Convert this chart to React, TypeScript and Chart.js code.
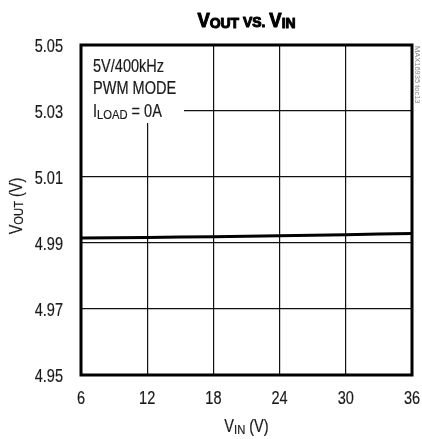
import React, { useEffect, useRef } from "react";
import { Chart, registerables } from "chart.js";

Chart.register(...registerables);

const vin: number[] = [6, 12, 18, 24, 30, 36];
const vout: number[] = [4.9915, 4.9917, 4.9919, 4.9922, 4.9925, 4.9929];
const xTicks: number[] = [6, 12, 18, 24, 30, 36];
const yTicks: number[] = [4.95, 4.97, 4.99, 5.01, 5.03, 5.05];
const noteLines: string[] = ["5V/400kHz", "PWM MODE"];
const tocLabel = "MAX16935 toc13";

const FAMILY = "Liberation Sans";
const FONT = `"${FAMILY}", Arial, sans-serif`;
const SX = 0.83;
const TXT = "#1a1a1a";

type Seg = { t: string; size: number; dy?: number; bold?: boolean };

function segFont(s: Seg) {
  return `${s.bold ? "bold " : ""}${s.size}px ${FONT}`;
}

// draws text segments compressed horizontally by sx; align refers to the final (scaled) width
function drawSegs(
  ctx: CanvasRenderingContext2D,
  segs: Seg[],
  x: number,
  y: number,
  align: "left" | "center" | "right",
  sx: number = SX,
  thicken: number = 0.2
) {
  let total = 0;
  const widths = segs.map((s) => {
    ctx.font = segFont(s);
    const w = ctx.measureText(s.t).width;
    total += w;
    return w;
  });
  const scaled = total * sx;
  const start = align === "center" ? x - scaled / 2 : align === "right" ? x - scaled : x;
  ctx.save();
  ctx.translate(start, y);
  ctx.scale(sx, 1);
  ctx.textBaseline = "alphabetic";
  ctx.textAlign = "left";
  ctx.strokeStyle = ctx.fillStyle;
  ctx.lineWidth = thicken;
  ctx.lineJoin = "round";
  let cx = 0;
  segs.forEach((s, i) => {
    ctx.font = segFont(s);
    ctx.fillText(s.t, cx, s.dy || 0);
    if (thicken > 0) ctx.strokeText(s.t, cx, s.dy || 0);
    cx += widths[i];
  });
  ctx.restore();
}

const decorPlugin = {
  id: "decor",
  beforeDatasetsDraw(chart: any) {
    const { ctx, chartArea } = chart;
    ctx.save();
    ctx.fillStyle = "#fff";
    ctx.fillRect(chartArea.left, chartArea.top, 103, 78);
    ctx.fillStyle = TXT;
    const x0 = chartArea.left + 12;
    drawSegs(ctx, [{ t: noteLines[0], size: 17.5 }], x0, chartArea.top + 27, "left");
    drawSegs(ctx, [{ t: noteLines[1], size: 17.5 }], x0, chartArea.top + 49, "left");
    drawSegs(
      ctx,
      [
        { t: "I", size: 17.5 },
        { t: "LOAD", size: 13.5, dy: 2 },
        { t: " = 0A", size: 17.5 },
      ],
      x0,
      chartArea.top + 71.5,
      "left"
    );
    ctx.restore();
  },
  afterDraw(chart: any) {
    const { ctx, chartArea, scales } = chart;
    ctx.save();
    ctx.strokeStyle = "#000";
    ctx.lineWidth = 3;
    ctx.strokeRect(chartArea.left, chartArea.top, chartArea.right - chartArea.left, chartArea.bottom - chartArea.top);

    // tick labels from the scales
    ctx.fillStyle = TXT;
    scales.x.ticks.forEach((t: any) => {
      const px = scales.x.getPixelForValue(t.value);
      drawSegs(ctx, [{ t: String(t.value), size: 17.5 }], px, chartArea.bottom + 29, "center");
    });
    scales.y.ticks.forEach((t: any) => {
      const py = scales.y.getPixelForValue(t.value);
      drawSegs(ctx, [{ t: Number(t.value).toFixed(2), size: 17.5 }], 63, py + 6.5, "right");
    });

    // title
    ctx.fillStyle = "#000";
    const cxp = (chartArea.left + chartArea.right) / 2;
    drawSegs(
      ctx,
      [
        { t: "V", size: 20.5, bold: true },
        { t: "OUT", size: 15.5, bold: true, dy: 1 },
        { t: " VS. ", size: 15.5, bold: true },
        { t: "V", size: 20.5, bold: true },
        { t: "IN", size: 15.5, bold: true, dy: 1 },
      ],
      cxp,
      26.5,
      "center",
      0.9,
      1.1
    );

    // x axis title
    ctx.fillStyle = TXT;
    drawSegs(
      ctx,
      [
        { t: "V", size: 17.5 },
        { t: "IN", size: 13.5, dy: 2 },
        { t: " (V)", size: 17.5 },
      ],
      cxp,
      432,
      "center"
    );

    // y axis title
    ctx.save();
    ctx.translate(22, 206);
    ctx.rotate(-Math.PI / 2);
    drawSegs(
      ctx,
      [
        { t: "V", size: 17.5 },
        { t: "OUT", size: 13.5, dy: 1 },
        { t: " (V)", size: 17.5 },
      ],
      0,
      0,
      "center"
    );
    ctx.restore();

    // side reference label
    ctx.save();
    ctx.translate(415, chartArea.top + 1);
    ctx.rotate(Math.PI / 2);
    ctx.fillStyle = "#888";
    ctx.font = `7.5px ${FONT}`;
    ctx.textAlign = "left";
    ctx.textBaseline = "alphabetic";
    ctx.fillText(tocLabel, 0, 0);
    ctx.restore();
    ctx.restore();
  },
};

export default function App() {
  const ref = useRef<HTMLCanvasElement | null>(null);
  useEffect(() => {
    if (!ref.current) return;
    let alive = true;
    const chart = new Chart(ref.current, {
      type: "line",
      data: {
        datasets: [
          {
            data: vin.map((x, i) => ({ x, y: vout[i] })),
            borderColor: "#000",
            borderWidth: 3,
            pointRadius: 0,
            tension: 0.3,
            fill: false,
          },
        ],
      },
      options: {
        animation: false,
        responsive: false,
        layout: { padding: { left: 0, right: 10, top: 45, bottom: 0 } },
        plugins: { legend: { display: false }, title: { display: false }, tooltip: { enabled: false } },
        scales: {
          x: {
            type: "linear",
            min: 6,
            max: 36,
            afterBuildTicks: (s: any) => {
              s.ticks = xTicks.map((v) => ({ value: v }));
            },
            afterFit: (s: any) => {
              s.height = 64;
            },
            grid: { color: "#111", lineWidth: 1.2, drawTicks: false },
            border: { display: false },
            ticks: { display: false },
          },
          y: {
            type: "linear",
            min: 4.95,
            max: 5.05,
            afterBuildTicks: (s: any) => {
              s.ticks = yTicks.map((v) => ({ value: v }));
            },
            afterFit: (s: any) => {
              s.width = 81;
            },
            grid: { color: "#111", lineWidth: 1.2, drawTicks: false },
            border: { display: false },
            ticks: { display: false },
          },
        },
      },
      plugins: [decorPlugin],
    });
    const loads = [
      document.fonts.load(`17px "${FAMILY}"`),
      document.fonts.load(`bold 20px "${FAMILY}"`),
    ];
    Promise.all(loads)
      .catch(() => null)
      .then(() => {
        if (alive) chart.update();
      });
    return () => {
      alive = false;
      chart.destroy();
    };
  }, []);
  return (
    <div style={{ position: "absolute", left: 0, top: 0, width: 422, height: 439, background: "#fff" }}>
      <span
        aria-hidden="true"
        style={{ position: "absolute", left: 0, top: 0, visibility: "hidden", fontFamily: `"${FAMILY}"`, fontSize: 10 }}
      >
        a<b>b</b>
      </span>
      <canvas ref={ref} width={422} height={439} style={{ position: "absolute", left: 0, top: 0, width: 422, height: 439 }} />
    </div>
  );
}
